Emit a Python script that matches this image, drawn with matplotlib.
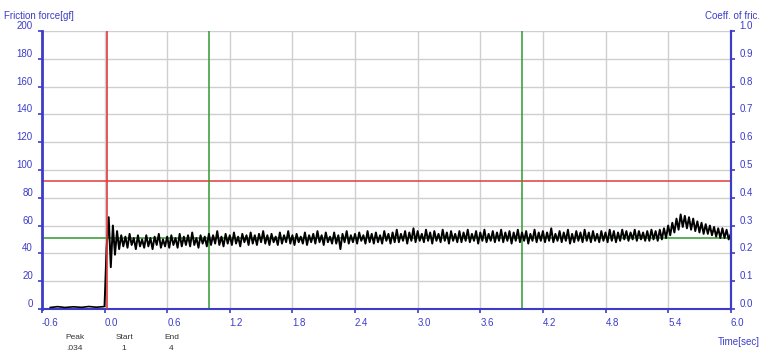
import matplotlib

matplotlib.use("Agg")

import matplotlib.pyplot as plt  # noqa: E402
import numpy as np  # noqa: E402

plt.rcParams["font.family"] = ["Liberation Sans", "DejaVu Sans"]

BLUE = "#3c3cc8"
GRID = "#cfcfcf"
RED = "#e23a3a"
GREEN = "#2f9a2f"

# friction force before start (gf)
pre_time = [-0.52, -0.45, -0.38, -0.3, -0.22, -0.15, -0.08, -0.01]
pre_force = [1.0, 1.6, 1.0, 1.5, 1.1, 1.7, 1.2, 1.6]

# friction force from 0.0 s to 6.0 s, one reading each 0.02 s (gf)
force = [
    2, 44, 66, 30, 60, 39, 56, 43, 53, 45,
    52, 44, 54, 46, 51, 43, 53, 45, 50, 44,
    53, 45, 51, 43, 52, 46, 54, 44, 50, 45,
    52, 44, 53, 46, 51, 44, 54, 45, 52, 46,
    53, 45, 55, 46, 51, 44, 53, 47, 52, 45,
    54, 46, 53, 47, 56, 46, 52, 45, 54, 47,
    53, 46, 55, 47, 52, 45, 54, 48, 53, 46,
    55, 47, 53, 46, 54, 48, 56, 47, 53, 46,
    54, 48, 52, 46, 55, 47, 53, 48, 56, 47,
    53, 46, 54, 48, 52, 47, 55, 46, 53, 48,
    54, 47, 56, 48, 53, 46, 55, 48, 52, 47,
    55, 47, 53, 43, 54, 48, 56, 47, 53, 48,
    54, 47, 55, 49, 53, 47, 56, 48, 54, 47,
    55, 48, 53, 47, 56, 49, 54, 47, 55, 48,
    57, 48, 54, 49, 56, 47, 55, 49, 58, 48,
    56, 49, 54, 48, 57, 49, 55, 47, 56, 49,
    54, 48, 57, 49, 55, 47, 56, 49, 54, 48,
    56, 48, 55, 49, 57, 48, 54, 49, 56, 47,
    55, 49, 57, 48, 54, 49, 56, 48, 55, 49,
    57, 48, 55, 49, 56, 47, 55, 49, 57, 48,
    55, 49, 56, 47, 54, 49, 57, 48, 55, 49,
    56, 48, 55, 49, 58, 48, 54, 49, 56, 48,
    55, 49, 57, 47, 54, 48, 56, 49, 55, 48,
    57, 49, 55, 48, 56, 49, 54, 48, 56, 49,
    55, 48, 57, 49, 56, 48, 55, 49, 57, 50,
    56, 49, 55, 50, 57, 49, 56, 50, 55, 49,
    56, 49, 57, 50, 56, 49, 57, 50, 58, 51,
    60, 53, 62, 55, 65, 57, 68, 59, 67, 58,
    66, 57, 65, 56, 63, 55, 62, 54, 61, 54,
    60, 53, 59, 52, 58, 51, 58, 51, 57, 50,
    54,
]
time = np.arange(len(force)) * 0.02

x_ticks = [-0.6, 0.0, 0.6, 1.2, 1.8, 2.4, 3.0, 3.6, 4.2, 4.8, 5.4, 6.0]
y_ticks = [0, 20, 40, 60, 80, 100, 120, 140, 160, 180, 200]
coef_ticks = [0.0, 0.1, 0.2, 0.3, 0.4, 0.5, 0.6, 0.7, 0.8, 0.9, 1.0]

start_line = 0.02
end_markers = [1.0, 4.0]
peak_level = 92
mean_level = 51

fig = plt.figure(figsize=(7.62, 3.53), dpi=100)
ax = fig.add_axes([0.055, 0.125, 0.904, 0.787])

ax.set_xlim(-0.6, 6.0)
ax.set_ylim(0, 200)
ax.set_xticks(x_ticks)
ax.set_yticks(y_ticks)
ax.grid(True, color=GRID, linewidth=1.0)
ax.set_axisbelow(True)

ax.axhline(peak_level, color=RED, linewidth=1.1, zorder=2)
ax.axhline(mean_level, color=GREEN, linewidth=1.1, zorder=2)
for t in end_markers:
    ax.axvline(t, color=GREEN, linewidth=1.1, zorder=2)

ax.plot(pre_time, pre_force, color="black", linewidth=1.2, zorder=3)
ax.plot(time, force, color="black", linewidth=1.4, zorder=3)
ax.axvline(start_line, color=RED, linewidth=1.2, zorder=4)

ax.spines["top"].set_visible(False)
for side in ("left", "bottom", "right"):
    ax.spines[side].set_color(BLUE)
ax.spines["left"].set_linewidth(2.0)
ax.spines["bottom"].set_linewidth(1.5)
ax.spines["right"].set_linewidth(1.5)

ax.tick_params(axis="both", colors=BLUE, labelsize=7, length=3, width=1.2)
ax.set_xticklabels([f"{t:.1f}" for t in x_ticks])
for lbl in ax.get_xticklabels():
    lbl.set_horizontalalignment("left")
for lbl in ax.get_yticklabels():
    lbl.set_verticalalignment("bottom")

ax2 = ax.twinx()
ax2.set_ylim(0, 1.0)
ax2.set_yticks(coef_ticks)
ax2.set_yticklabels([f"{c:.1f}" for c in coef_ticks])
for side in ("top", "left", "bottom"):
    ax2.spines[side].set_visible(False)
ax2.spines["right"].set_color(BLUE)
ax2.spines["right"].set_linewidth(1.5)
ax2.tick_params(axis="y", colors=BLUE, labelsize=7, length=3, width=1.2)
for lbl in ax2.get_yticklabels():
    lbl.set_verticalalignment("bottom")

fig.text(0.005, 0.955, "Friction force[gf]", color=BLUE, fontsize=7, ha="left", va="center")
fig.text(0.997, 0.955, "Coeff. of fric.", color=BLUE, fontsize=7, ha="right", va="center")
fig.text(0.997, 0.03, "Time[sec]", color=BLUE, fontsize=7, ha="right", va="center")

info_x = [0.098, 0.163, 0.225]
info_head = ["Peak", "Start", "End"]
info_val = [".034", "1", "4"]
for x, h, v in zip(info_x, info_head, info_val):
    fig.text(x, 0.045, h, color="#333333", fontsize=6, ha="center", va="center")
    fig.text(x, 0.012, v, color="#333333", fontsize=6, ha="center", va="center")

fig.savefig("out.png", dpi=100)
